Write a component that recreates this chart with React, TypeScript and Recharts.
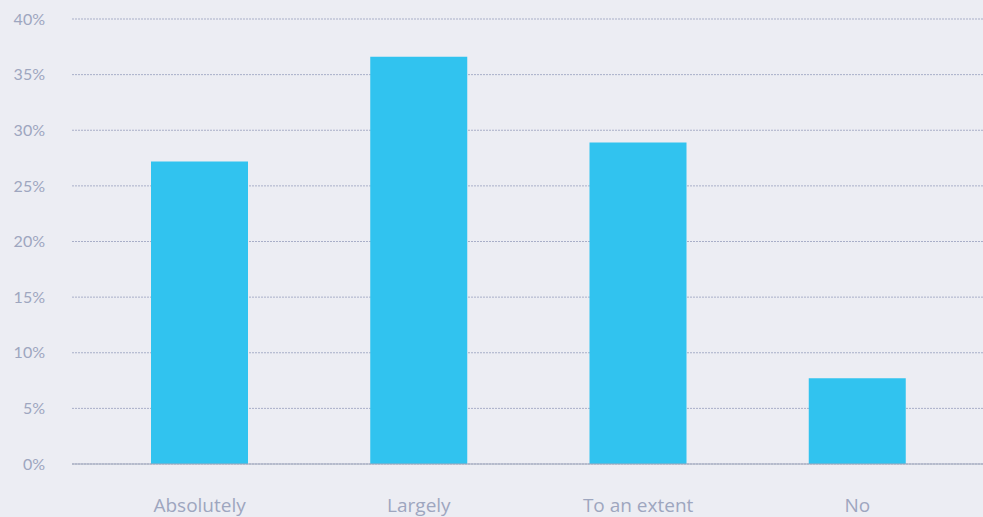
import { Bar, BarChart, CartesianGrid, XAxis, YAxis } from "recharts";

const categories = ["Absolutely", "Largely", "To an extent", "No"];
const shares = [27.2, 36.6, 28.9, 7.7];
const yTicks = [0, 5, 10, 15, 20, 25, 30, 35, 40];

const data = categories.map((name, i) => ({ name, value: shares[i] }));

const TEXT = "#9ea6bf";

export default function App() {
  return (
    <div style={{ position: "absolute", left: 0, top: 0, width: 983, height: 517, background: "#ecedf3" }}>
      <BarChart width={983} height={517} data={data} margin={{ top: 19, right: 0, left: 0, bottom: 0 }}>
        <CartesianGrid vertical={false} stroke="#a9afc8" strokeDasharray="2 1" />
        <XAxis
          dataKey="name"
          height={53}
          padding={{ left: 18, right: 16 }}
          tickLine={false}
          tickSize={0}
          tickMargin={35}
          axisLine={{ stroke: "#a0a7ba" }}
          tick={{ fill: TEXT, fontSize: 19, fontFamily: "'Open Sans', sans-serif" }}
        />
        <YAxis
          width={72}
          domain={[0, 40]}
          ticks={yTicks}
          interval={0}
          axisLine={false}
          tickLine={false}
          tickSize={0}
          tickMargin={27}
          tickFormatter={(v: number) => `${v}%`}
          tick={{ fill: TEXT, fontSize: 16, fontFamily: "Lato, sans-serif" }}
        />
        <Bar dataKey="value" fill="#31c3ef" barSize={97} isAnimationActive={false} />
      </BarChart>
    </div>
  );
}
